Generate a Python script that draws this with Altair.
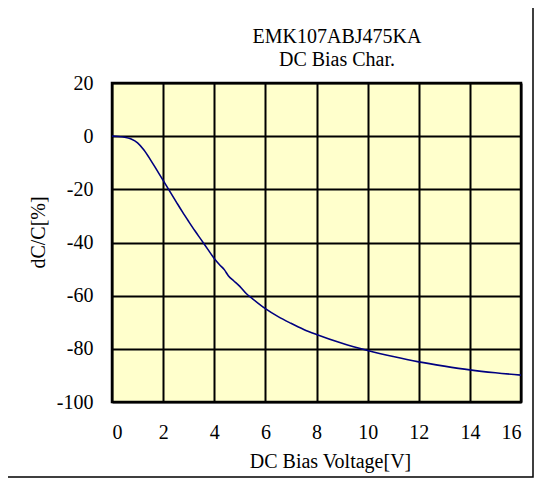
import altair as alt
import pandas as pd

# ---- data ----
voltage = [0, 0.25, 0.5, 0.75, 1.0, 1.25, 1.5, 1.75, 2.0, 2.25, 2.5, 2.75, 3.0,
           3.25, 3.5, 3.75, 4.0, 4.2, 4.4, 4.55, 4.75, 5.0, 5.25, 5.5, 6.0, 6.5,
           7.0, 7.5, 8.0, 9.0, 10.0, 11.0, 12.0, 13.0, 14.0, 15.0, 16.0]
dcc = [0, -0.1, -0.4, -1.1, -2.5, -5.2, -8.8, -12.7, -16.6, -20.6, -24.5, -28.4,
       -32.1, -35.7, -39.1, -42.6, -46.0, -48.3, -50.3, -52.5, -54.3, -56.5,
       -59.2, -61.2, -64.9, -67.9, -70.4, -72.7, -74.6, -77.9, -80.6, -82.9,
       -84.9, -86.5, -87.9, -89.0, -89.9]
x_ticks = [0, 2, 4, 6, 8, 10, 12, 14, 16]
y_ticks = [-100, -80, -60, -40, -20, 0, 20]
title_text = "EMK107ABJ475KA\nDC Bias Char."
x_title = "DC Bias Voltage[V]"
y_title = "dC/C[%]"

FONT = "Liberation Serif"
W, H = 409, 319

df = pd.DataFrame({"V": voltage, "dC": dcc})

line = alt.Chart(df).mark_line(color="#000080", strokeWidth=1.6,
                               interpolate="monotone").encode(
    x=alt.X("V:Q",
            scale=alt.Scale(domain=[0, 16], nice=False, zero=False),
            axis=alt.Axis(values=x_ticks, title=x_title, labelPadding=36,
                          labelBaseline="alphabetic", titleX=218, titleY=65,
                          titleBaseline="alphabetic", titleAlign="center",
                          labelExpr="datum.value + ''")),
    y=alt.Y("dC:Q",
            scale=alt.Scale(domain=[-100, 20], nice=False, zero=False),
            axis=alt.Axis(values=y_ticks, title=y_title, labelPadding=19,
                          titleX=-74, titleY=149, titleAngle=270,
                          titleBaseline="middle", titleAlign="center",
                          labelExpr="datum.value + ''")),
)

single = pd.DataFrame({"f": [0]})

frame = alt.Chart(single).mark_rect(
    fill="transparent", stroke="black", strokeWidth=1.5, clip=False
).encode(
    x=alt.value(-105), x2=alt.value(421),
    y=alt.value(-78), y2=alt.value(394),
)

title = alt.Chart(single).mark_text(
    text=title_text, lineBreak="\n", lineHeight=23, font=FONT, fontSize=20,
    align="center", baseline="alphabetic", color="black", clip=False
).encode(x=alt.value(225), y=alt.value(-40))

chart = alt.layer(line, frame, title).properties(
    width=W, height=H,
    background="white",
    autosize=alt.AutoSizeParams(type="none"),
    padding={"left": 104, "top": 75, "right": 13, "bottom": 76},
).configure_view(
    fill="#FFFFCC", stroke="black", strokeWidth=2.5
).configure_axis(
    domain=False, ticks=False, tickSize=0,
    grid=True, gridColor="black", gridWidth=2, gridOpacity=1,
    labelFont=FONT, labelFontSize=20, labelColor="black",
    titleFont=FONT, titleFontSize=20, titleFontWeight="normal", titleColor="black",
)

chart.save("out.html", embed_options={"renderer": "svg", "actions": False})
